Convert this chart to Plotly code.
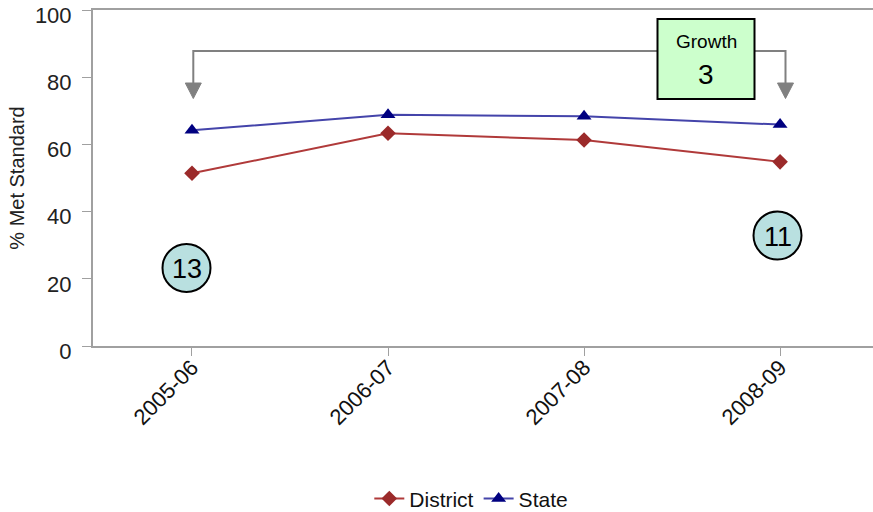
import plotly.graph_objects as go

# School years and percent of students meeting standard
years = ["2005-06", "2006-07", "2007-08", "2008-09"]
district = [51.4, 63.3, 61.3, 54.8]
state = [64.2, 68.8, 68.4, 65.9]

growth_label = "3"
gap_first = "13"
gap_last = "11"

W, H = 873, 512
ML, MT, MR, MB = 93, 10, 0, 166
PW, PH = W - ML - MR, H - MT - MB
XR = [-0.505, 3.474]
YR = [0, 100.001]


def px_x(px):
    return XR[0] + (px - ML) / PW * (XR[1] - XR[0])


def px_y(py):
    return YR[0] + (MT + PH - py) / PH * (YR[1] - YR[0])


FONT = "Liberation Sans, Arial, sans-serif"
GRAY = "#808080"

fig = go.Figure()
fig.add_trace(go.Scatter(
    x=list(range(len(years))), y=district, name="District", mode="lines+markers",
    line=dict(color="#b03a3a", width=2),
    marker=dict(symbol="diamond", size=12, color="#9b2a2a"),
))
fig.add_trace(go.Scatter(
    x=list(range(len(years))), y=state, name="State", mode="lines+markers",
    line=dict(color="#4444aa", width=2),
    marker=dict(symbol="triangle-up", size=13, color="#000080"),
))

shapes = []
# bracket connecting the first and last year
bx0, bx1, by, tip, head_top = 193.3, 785.5, 51, 98.5, 83
shapes.append(dict(
    type="path", xref="x", yref="y",
    path=f"M {px_x(bx0)},{px_y(head_top)} L {px_x(bx0)},{px_y(by)} "
         f"L {px_x(bx1)},{px_y(by)} L {px_x(bx1)},{px_y(head_top)}",
    line=dict(color=GRAY, width=2),
))
for cx in (bx0, bx1):
    shapes.append(dict(
        type="path", xref="x", yref="y",
        path=f"M {px_x(cx - 8)},{px_y(head_top)} L {px_x(cx + 8)},{px_y(head_top)} "
             f"L {px_x(cx)},{px_y(tip)} Z",
        fillcolor=GRAY, line=dict(color=GRAY, width=1),
    ))
# growth box
shapes.append(dict(
    type="rect", xref="x", yref="y",
    x0=px_x(657.5), x1=px_x(754.5), y0=px_y(99), y1=px_y(19),
    fillcolor="#ccffcc", line=dict(color="black", width=2),
))
# gap circles
for cx, cy in ((186.5, 268), (777.5, 235.5)):
    shapes.append(dict(
        type="circle", xref="x", yref="y",
        x0=px_x(cx - 24), x1=px_x(cx + 24), y0=px_y(cy + 24), y1=px_y(cy - 24),
        fillcolor="#b9e0e0", line=dict(color="black", width=2),
    ))

annotations = [
    dict(x=px_x(706), y=px_y(41), text="Growth", showarrow=False,
         font=dict(size=19, color="black", family=FONT)),
    dict(x=px_x(706), y=px_y(74), text=growth_label, showarrow=False,
         font=dict(size=28, color="black", family=FONT)),
    dict(x=px_x(186.5), y=px_y(269), text=gap_first, showarrow=False,
         font=dict(size=27, color="black", family=FONT)),
    dict(x=px_x(777.5), y=px_y(236.5), text=gap_last, showarrow=False,
         font=dict(size=27, color="black", family=FONT)),
]

fig.update_layout(
    width=W, height=H,
    margin=dict(l=ML, r=MR, t=MT, b=MB, pad=0, autoexpand=False),
    paper_bgcolor="white", plot_bgcolor="white",
    font=dict(family=FONT, color="#222222"),
    shapes=shapes, annotations=annotations,
    showlegend=True,
    legend=dict(orientation="h", x=0.485, xanchor="center", y=-0.455, yanchor="middle",
                font=dict(size=21, family=FONT, color="#111111"),
                itemwidth=30, tracegroupgap=0),
    xaxis=dict(
        range=XR, tickmode="array", tickvals=list(range(len(years))), ticktext=years,
        tickangle=-45, tickfont=dict(size=22, family=FONT, color="#111111"),
        ticklabelstandoff=-10,
        showgrid=False, zeroline=False, automargin=False,
        showline=True, linecolor="#a0a0a0", linewidth=2, mirror=True,
        ticks="outside", ticklen=8, tickcolor="#a0a0a0", tickwidth=1,
    ),
    yaxis=dict(
        range=YR, tickmode="array", tickvals=[0, 20, 40, 60, 80, 100],
        tickfont=dict(size=22, color="#222222"), ticklabeloverflow="allow",
        ticklabelstandoff=6, ticklabelshift=5, automargin=False,
        title=dict(text="% Met Standard", font=dict(size=20, color="#222222"), standoff=5),
        showgrid=False, zeroline=False,
        showline=True, linecolor="#a0a0a0", linewidth=2,
        ticks="outside", ticklen=9, tickcolor="#a0a0a0", tickwidth=1,
    ),
)

fig.write_html("out.html")
